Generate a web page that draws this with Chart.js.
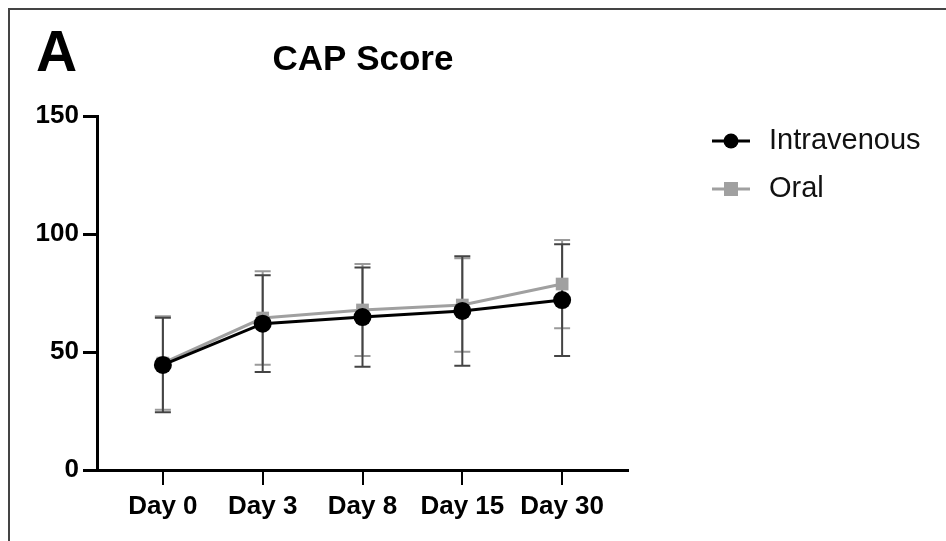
<!DOCTYPE html>
<html>
<head>
<meta charset="utf-8">
<script src="https://cdn.jsdelivr.net/npm/chart.js@4"></script>
<style>
  body { margin: 0; background: #fff; }
  #wrap { position: relative; width: 946px; height: 541px; }
  #frame { position: absolute; left: 8px; top: 8px; right: 0; bottom: 0;
           border-top: 2px solid #444; border-left: 2px solid #444; }
</style>
</head>
<body>
<div id="wrap">
  <div id="frame"></div>
  <canvas id="capChart" width="946" height="541"></canvas>
</div>
<script>
const categories = ["Day 0", "Day 3", "Day 8", "Day 15", "Day 30"];
const ivMean = [44.5, 62, 64.8, 67.4, 72];
const ivSD = [20, 20.5, 21, 23.2, 23.7];
const oralMean = [45.3, 64.4, 67.8, 69.9, 78.8];
const oralSD = [19.8, 19.8, 19.5, 19.8, 18.7];
const yTicks = [0, 50, 100, 150];

const FONT = "'Liberation Sans', Arial, sans-serif";

// error bars drawn through the y scale
const errorBars = {
  id: "errorBars",
  beforeDatasetsDraw(chart) {
    const { ctx, scales: { x, y } } = chart;
    const sets = [
      { mean: oralMean, sd: oralSD, color: "#9a9a9a" },
      { mean: ivMean, sd: ivSD, color: "#444" },
    ];
    ctx.save();
    ctx.lineWidth = 2;
    sets.forEach(s => {
      ctx.strokeStyle = s.color;
      s.mean.forEach((m, i) => {
        const px = x.getPixelForValue(i);
        const top = y.getPixelForValue(m + s.sd[i]);
        const bot = y.getPixelForValue(m - s.sd[i]);
        ctx.beginPath();
        ctx.moveTo(px, top); ctx.lineTo(px, bot);
        ctx.moveTo(px - 8, top); ctx.lineTo(px + 8, top);
        ctx.moveTo(px - 8, bot); ctx.lineTo(px + 8, bot);
        ctx.stroke();
      });
    });
    ctx.restore();
  }
};

// panel letter, title and legend
const decorations = {
  id: "decorations",
  afterDraw(chart) {
    const { ctx } = chart;
    ctx.save();
    ctx.fillStyle = "#000";
    ctx.textBaseline = "alphabetic";
    ctx.font = "bold 57px " + FONT;
    ctx.textAlign = "left";
    ctx.fillText("A", 36, 71);
    ctx.font = "bold 35px " + FONT;
    ctx.textAlign = "center";
    ctx.fillText("CAP Score", 363, 70);

    const items = [
      { label: "Intravenous", color: "#000", style: "circle", y: 141 },
      { label: "Oral", color: "#a0a0a0", style: "rect", y: 189 },
    ];
    items.forEach(it => {
      ctx.strokeStyle = it.color;
      ctx.fillStyle = it.color;
      ctx.lineWidth = 3;
      ctx.beginPath();
      ctx.moveTo(712, it.y); ctx.lineTo(750, it.y);
      ctx.stroke();
      if (it.style === "circle") {
        ctx.beginPath();
        ctx.arc(731, it.y, 7.5, 0, Math.PI * 2);
        ctx.fill();
      } else {
        ctx.fillRect(724, it.y - 7, 14, 14);
      }
      ctx.fillStyle = "#111";
      ctx.font = "29px " + FONT;
      ctx.textAlign = "left";
      ctx.textBaseline = "middle";
      ctx.fillText(it.label, 769, it.y);
    });
    ctx.restore();
  }
};

new Chart(document.getElementById("capChart"), {
  type: "line",
  data: {
    datasets: [
      {
        label: "Oral",
        data: oralMean.map((v, i) => ({ x: i, y: v })),
        borderColor: "#a0a0a0",
        backgroundColor: "#a0a0a0",
        borderWidth: 3,
        pointStyle: "rect",
        pointRadius: 9,
        pointBorderWidth: 0,
        order: 2,
      },
      {
        label: "Intravenous",
        data: ivMean.map((v, i) => ({ x: i, y: v })),
        borderColor: "#000",
        backgroundColor: "#000",
        borderWidth: 3,
        pointStyle: "circle",
        pointRadius: 9,
        pointBorderWidth: 0,
        order: 1,
      },
    ],
  },
  options: {
    responsive: false,
    animation: false,
    layout: { padding: { top: 116, right: 318, left: 0, bottom: 0 } },
    plugins: { legend: { display: false }, tooltip: { enabled: false } },
    scales: {
      x: {
        type: "linear",
        min: -0.66,
        max: 4.66,
        afterBuildTicks: s => { s.ticks = categories.map((_, i) => ({ value: i })); },
        afterFit: s => { s.height = 71; },
        border: { display: true, color: "#000", width: 3 },
        grid: { display: true, drawOnChartArea: false, drawTicks: true, tickLength: 15, color: "#000", lineWidth: 2 },
        ticks: {
          callback: v => categories[v],
          color: "#000",
          font: { family: FONT, size: 26, weight: "bold" },
          padding: 6,
          maxRotation: 0,
          autoSkip: false,
        },
      },
      y: {
        min: 0,
        max: 150,
        afterBuildTicks: s => { s.ticks = yTicks.map(v => ({ value: v })); },
        afterFit: s => { s.width = 97; },
        border: { display: true, color: "#000", width: 3 },
        grid: { display: true, drawOnChartArea: false, drawTicks: true, tickLength: 14, color: "#000", lineWidth: 3 },
        ticks: {
          color: "#000",
          font: { family: FONT, size: 26, weight: "bold" },
          padding: 4,
        },
      },
    },
  },
  plugins: [errorBars, decorations],
});
</script>
</body>
</html>
